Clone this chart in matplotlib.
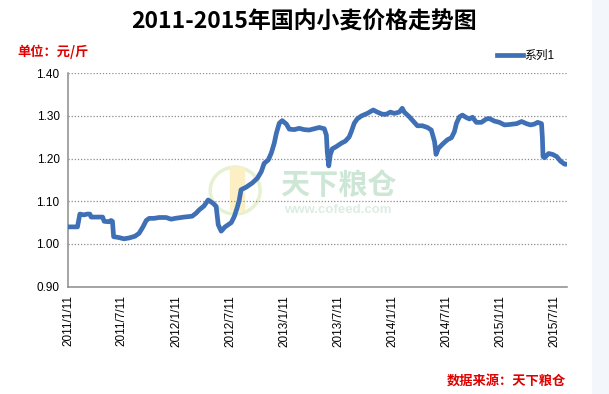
import numpy as np
import pandas as pd
import matplotlib
matplotlib.use("Agg")
import matplotlib.pyplot as plt
import matplotlib.dates as mdates
from matplotlib.patches import Rectangle, Ellipse

plt.rcParams['font.family'] = ['Liberation Sans', 'Noto Sans CJK SC', 'DejaVu Sans']

# data (date, price in yuan per jin)
dates = [
    "2011-01-11", "2011-02-12", "2011-02-20", "2011-03-06", "2011-03-16", "2011-03-26",
    "2011-03-30", "2011-05-08", "2011-05-13", "2011-05-30", "2011-06-05", "2011-06-10",
    "2011-06-14", "2011-07-02", "2011-07-19", "2011-08-05", "2011-08-25", "2011-09-08",
    "2011-09-21", "2011-10-02", "2011-10-12", "2011-10-29", "2011-11-14", "2011-12-08",
    "2011-12-25", "2012-01-08", "2012-02-07", "2012-03-05", "2012-03-18", "2012-03-29",
    "2012-04-14", "2012-04-28", "2012-05-15", "2012-05-25", "2012-06-01", "2012-06-11",
    "2012-06-24", "2012-07-15", "2012-07-25", "2012-08-04", "2012-08-11", "2012-08-17",
    "2012-09-03", "2012-09-24", "2012-10-11", "2012-10-24", "2012-11-03", "2012-11-17",
    "2012-11-27", "2012-12-07", "2012-12-14", "2012-12-24", "2013-01-03", "2013-01-17",
    "2013-01-27", "2013-02-13", "2013-03-01", "2013-03-18", "2013-04-04", "2013-04-21",
    "2013-05-08", "2013-05-25", "2013-06-01", "2013-06-04", "2013-06-09", "2013-06-14",
    "2013-06-21", "2013-07-04", "2013-07-21", "2013-08-04", "2013-08-17", "2013-08-24",
    "2013-09-03", "2013-09-13", "2013-09-27", "2013-10-17", "2013-11-06", "2013-11-20",
    "2013-12-07", "2013-12-20", "2014-01-03", "2014-01-16", "2014-02-02", "2014-02-12",
    "2014-02-19", "2014-03-08", "2014-03-25", "2014-04-04", "2014-04-21", "2014-05-08",
    "2014-05-21", "2014-06-01", "2014-06-06", "2014-06-14", "2014-06-28", "2014-07-14",
    "2014-07-28", "2014-08-07", "2014-08-14", "2014-08-24", "2014-09-03", "2014-09-17",
    "2014-09-27", "2014-10-07", "2014-10-20", "2014-11-06", "2014-11-23", "2014-12-03",
    "2014-12-20", "2015-01-06", "2015-01-23", "2015-02-09", "2015-03-05", "2015-03-22",
    "2015-04-07", "2015-04-21", "2015-05-04", "2015-05-15", "2015-05-28", "2015-05-31",
    "2015-06-02", "2015-06-07", "2015-06-21", "2015-07-04", "2015-07-18", "2015-07-31",
    "2015-08-14", "2015-08-24",
]
prices = [
    1.040, 1.040, 1.070, 1.068, 1.070, 1.070,
    1.063, 1.063, 1.053, 1.052, 1.055, 1.053,
    1.017, 1.015, 1.012, 1.014, 1.018, 1.025,
    1.040, 1.055, 1.060, 1.060, 1.062, 1.062,
    1.058, 1.060, 1.063, 1.065, 1.072, 1.080,
    1.089, 1.103, 1.095, 1.088, 1.045, 1.030,
    1.040, 1.050, 1.064, 1.085, 1.103, 1.127,
    1.133, 1.143, 1.154, 1.169, 1.189, 1.197,
    1.213, 1.236, 1.259, 1.283, 1.289, 1.281,
    1.269, 1.268, 1.271, 1.268, 1.267, 1.270,
    1.273, 1.270, 1.255, 1.216, 1.183, 1.209,
    1.223, 1.228, 1.236, 1.241, 1.251, 1.263,
    1.283, 1.293, 1.300, 1.306, 1.314, 1.309,
    1.304, 1.304, 1.309, 1.306, 1.309, 1.318,
    1.309, 1.298, 1.285, 1.277, 1.277, 1.273,
    1.267, 1.240, 1.210, 1.224, 1.234, 1.244,
    1.249, 1.263, 1.283, 1.298, 1.302, 1.296,
    1.293, 1.297, 1.285, 1.285, 1.293, 1.294,
    1.288, 1.285, 1.279, 1.280, 1.282, 1.287,
    1.282, 1.279, 1.281, 1.285, 1.282, 1.248,
    1.205, 1.202, 1.212, 1.210, 1.205, 1.194,
    1.187, 1.187,
]
tick_dates = ["2011-01-11", "2011-07-11", "2012-01-11", "2012-07-11", "2013-01-11",
              "2013-07-11", "2014-01-11", "2014-07-11", "2015-01-11", "2015-07-11"]
tick_labels = ["2011/1/11", "2011/7/11", "2012/1/11", "2012/7/11", "2013/1/11",
               "2013/7/11", "2014/1/11", "2014/7/11", "2015/1/11", "2015/7/11"]
y_ticks = [0.90, 1.00, 1.10, 1.20, 1.30, 1.40]

x = pd.to_datetime(dates)
blue = '#3F70B5'

fig = plt.figure(figsize=(6.09, 3.94), dpi=100)
fig.patches.append(Rectangle((592 / 609, 0), 17 / 609, 1, transform=fig.transFigure,
                             color='#F3F6FB', zorder=0))
ax = fig.add_axes([68 / 609, 1 - 286.6 / 394, 499 / 609, 213.3 / 394])

# faint watermark behind the line
ax.text(0.425, 0.47, "天下粮仓", transform=ax.transAxes, fontsize=21, fontweight='bold',
        color='#CDE6D6', ha='left', va='center', zorder=1)
ax.text(0.432, 0.36, "www.cofeed.com", transform=ax.transAxes, fontsize=9.5,
        fontweight='bold', color='#DDEDE3', ha='left', va='center', zorder=1)
ax.add_patch(Ellipse((0.335, 0.45), 0.1, 0.22, transform=ax.transAxes, fill=False,
                     lw=2.5, ec='#E6F1D2', zorder=1))
ax.add_patch(Rectangle((0.325, 0.36), 0.028, 0.2, transform=ax.transAxes,
                       color='#FCEFC4', zorder=1))

ax.plot(x, prices, color=blue, lw=3.4, solid_joinstyle='round', label='系列1', zorder=3)

ax.set_ylim(0.90, 1.40)
ax.set_yticks(y_ticks)
ax.set_yticklabels([f"{v:.2f}" for v in y_ticks])
ax.set_xlim(pd.Timestamp("2011-01-11"), pd.Timestamp("2015-08-22"))
ax.set_xticks(pd.to_datetime(tick_dates))
ax.set_xticklabels(tick_labels, rotation=90)

ax.grid(axis='y', linestyle=(0, (1, 1.5)), color='#8C8C8C', lw=0.9, zorder=0)
for s in ['top', 'right']:
    ax.spines[s].set_visible(False)
for s in ['left', 'bottom']:
    ax.spines[s].set_color('#8C8C8C')
    ax.spines[s].set_linewidth(1.1)
ax.tick_params(length=0, labelsize=8.5, colors='black', pad=6)

fig.text(0.5, 1 - 22 / 394, "2011-2015年国内小麦价格走势图", ha='center', va='center',
         fontsize=16.5, fontweight='bold', family=['Noto Sans CJK SC'])
fig.text(17 / 609, 1 - 52 / 394, "单位：元/斤", ha='left', va='center', fontsize=9.5,
         fontweight='bold', color='#E00000', family=['Noto Sans CJK SC'])
fig.text(566 / 609, 1 - 381 / 394, "数据来源：天下粮仓", ha='right', va='center',
         fontsize=9.5, fontweight='bold', color='#E00000', family=['Noto Sans CJK SC'])

leg = ax.legend(loc='upper right', bbox_to_anchor=(560 / 609, 1 - 44 / 394),
                bbox_transform=fig.transFigure, frameon=False, fontsize=8.5,
                handlelength=2.2, handletextpad=0.1, borderpad=0)

fig.savefig("out.png", dpi=100)
